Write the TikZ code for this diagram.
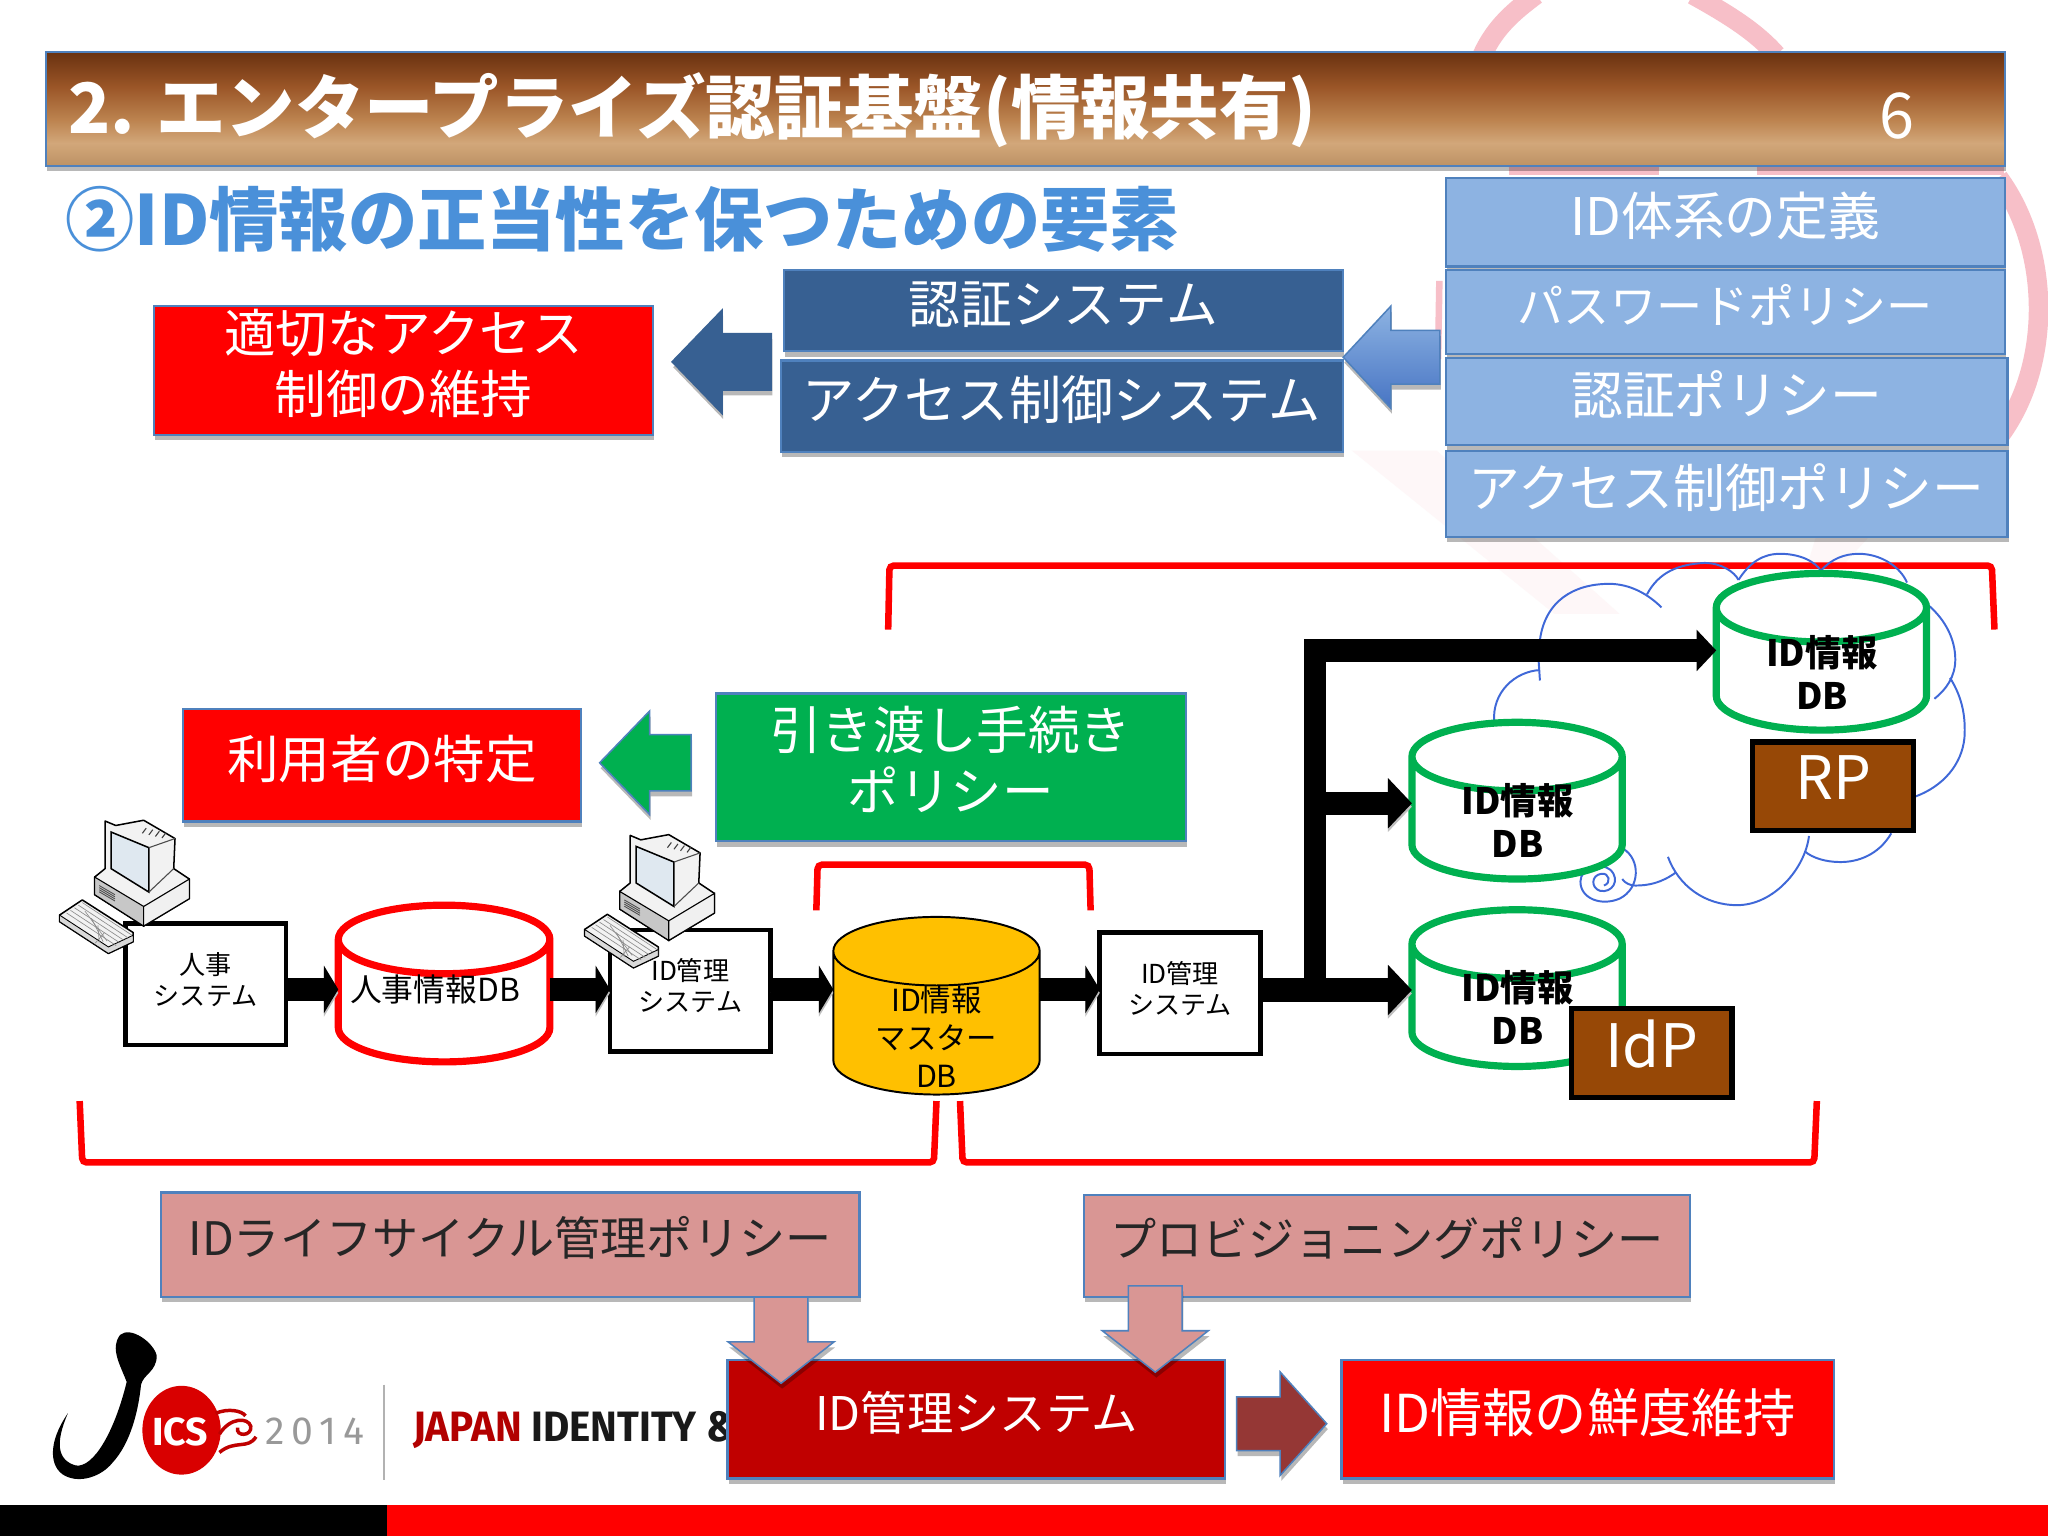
\documentclass[tikz,border=0pt]{standalone}
\usepackage{fontspec}
\setmainfont{Noto Sans CJK JP}
\newfontfamily\logofont{Fira Sans}
\usepackage{tikz}
\usetikzlibrary{arrows.meta,positioning,shapes.geometric,shapes.arrows,shadows}
\newcommand{\fs}[1]{\fontsize{#1}{1.18\dimexpr #1pt\relax}\selectfont}
\newcommand{\dbspace}{\phantom{\rule{63pt}{15pt}}}
\def\pu{0.6pt}
\definecolor{edgeblue}{HTML}{4F81BD}
\definecolor{policyblue}{HTML}{8DB3E2}
\definecolor{sysblue}{HTML}{376092}
\definecolor{headblue}{HTML}{4A90D9}
\definecolor{pinkbox}{HTML}{D99694}
\definecolor{wine}{HTML}{C00000}
\definecolor{arrowwine}{HTML}{953735}
\definecolor{mainred}{HTML}{FF0000}
\definecolor{greenbox}{HTML}{00B050}
\definecolor{brownbox}{HTML}{974806}
\definecolor{amber}{HTML}{FFC000}
\definecolor{cloudblue}{HTML}{3F68D8}
\definecolor{ringpink}{HTML}{F7BFC8}
\definecolor{screenblue}{HTML}{DFE8F0}
\definecolor{tl0}{HTML}{6A3210}
\definecolor{tl1}{HTML}{9A5527}
\definecolor{tl2}{HTML}{BD8450}
\definecolor{tl3}{HTML}{D2A77A}
\definecolor{tl4}{HTML}{BD9264}
\pgfdeclareverticalshading{titlegrad}{100bp}{color(0bp)=(tl4); color(25bp)=(tl4); color(35bp)=(tl3); color(45bp)=(tl2); color(60bp)=(tl1); color(75bp)=(tl0); color(100bp)=(tl0)}
\tikzset{
  softshadow/.style={drop shadow={shadow xshift=0.5pt,shadow yshift=-2.5pt,opacity=.28,fill=black}},
  box/.style 2 args={rectangle,inner sep=0pt,outer sep=0pt,align=center,text depth=8pt,minimum width=#1*\pu,minimum height=#2*\pu,draw=edgeblue,line width=1pt,softshadow},
  policy/.style 2 args={box={#1}{#2},fill=policyblue,text=white,font=\fs{23.8}},
  sysbox/.style 2 args={box={#1}{#2},fill=sysblue,text=white,font=\fs{23.8}},
  redbox/.style 2 args={box={#1}{#2},fill=mainred,text=white,font=\fs{23.7}},
  rule/.style 2 args={box={#1}{#2},fill=pinkbox,text=black!85,font=\fs{21.2}},
  int/.style 2 args={rectangle,draw=black,fill=white,line width=2.2pt,inner sep=0pt,outer sep=0pt,align=center,text depth=5pt,minimum width=#1*\pu,minimum height=#2*\pu,font=\fs{12}},
  tag/.style 2 args={rectangle,draw=black,fill=brownbox,line width=2.4pt,inner sep=0pt,outer sep=0pt,text depth=8pt,minimum width=#1*\pu,minimum height=#2*\pu,text=white,font=\fs{27.5}},
  db/.style 2 args={cylinder,shape border rotate=90,aspect=.5,anchor=shape center,inner sep=0pt,outer sep=0pt,minimum width=#1*\pu,minimum height=#2*\pu},
  greendb/.style={db={161}{120},draw=greenbox,fill=white,line width=3.3pt},
  dblabel/.style={inner sep=0pt,align=center},
  greenlabel/.style={dblabel,font=\fs{16.7}\bfseries},
  block/.style={single arrow,inner xsep=0pt,outer sep=0pt,draw=edgeblue,line width=.7pt,softshadow},
  bracket/.style={draw=mainred,line width=3pt,rounded corners=2pt},
  flow/.style={draw=black,line width=10.8pt,preaction={draw=black!25,transform canvas={yshift=-1.6pt}},-{Triangle[length=6.6pt,width=21.6pt]}},
  bigflow/.style={draw=black,line width=10.8pt,preaction={draw=black!25,transform canvas={yshift=-1.6pt}},-{Triangle[length=11pt,width=22.5pt]}},
  cloudline/.style={draw=cloudblue,line width=.9pt},
  pc/.pic={
    \draw[black,line width=.7pt,fill=black!5,line join=round] (80.5,628.6) -- (88.6,632) -- (110,628) -- (134,642) -- (133,665) -- (145,673) -- (145,688) -- (110,709) -- (72.5,685) -- (72.5,671.5) -- (80.5,665) -- cycle;
    \draw[black,line width=.7pt,fill=screenblue] (85,637) -- (114,649) -- (114,683) -- (85,665) -- cycle;
    \draw[black,line width=.5pt,fill=black!22] (72.5,671.5) -- (110,694) -- (110,709) -- (72.5,685) -- cycle;
    \draw[black,line width=.5pt,fill=black!6] (110,694) -- (145,673) -- (145,688) -- (110,709) -- cycle;
    \draw[black!70,line width=.5pt] (114,649) -- (134,642) (114,683) -- (133,665);
    \foreach \k in {0,2,4,6}{\draw[black!75,line width=.5pt] (112+\k*2.5,634+\k*.6) -- (109+\k*2.5,638+\k*.6);}
    \foreach \k in {0,2,4,6}{\draw[black!70,line width=.4pt] (76,678+\k*.8) -- (88,685+\k*.8);}
    \draw[black,line width=.7pt,fill=black!5,line join=round] (63,689) -- (102,714) -- (102,721) -- (83,730) -- (45.6,705.6) -- (45.6,700.6) -- cycle;
    \draw[black,line width=.4pt,fill=black!15] (45.6,705.6) -- (83,730) -- (102,721) -- (102,716) -- (83,725) -- (45.6,700.6) -- cycle;
    \foreach \k in {1,...,4}{\draw[black!45,line width=.3pt] (60-\k*3+\k*8,692+\k*.5+\k*5) -- (97-\k*3-12,716+\k*.5+4);}
    \foreach \k in {1,...,5}{\draw[black!45,line width=.3pt] (48+\k*3,701-\k*2) -- (86+\k*3,726-\k*2);}
  }
}
\begin{document}
\begin{tikzpicture}[x=0.6pt,y=-0.6pt,>=latex]
  \useasboundingbox (0,0) rectangle (1568,1176);
  \fill[white] (0,0) rectangle (1568,1176);

  % watermark
  \begin{scope}[ringpink,line width=9pt]
    \draw (1135,42) .. controls (1145,20) and (1160,8) .. (1176,-4);
    \draw (1296,-4) .. controls (1325,12) and (1345,25) .. (1360,42);
    \draw[line width=4pt] (1155,131) -- (1270,131) (1345,131) -- (1534,131);
    \draw (1530,136) .. controls (1570,190) and (1572,280) .. (1530,335);
    \draw[line width=3pt] (1102,215) -- (1101,275);
  \end{scope}
  \fill[ringpink!12] (1035,345) -- (1100,345) -- (1240,470) -- (1190,470) -- cycle;
  \fill[ringpink!12] (1390,412) -- (1430,412) -- (1400,445) -- (1380,445) -- cycle;

  % header
  \node[box={1500}{87},shading=titlegrad] (titlebar) at (785,83.5) {};
  \node[anchor=west,inner sep=0pt,text=white,font=\fs{31.9}\bfseries] (titletext) at (52,84) {2. エンタープライズ認証基盤(情報共有)};
  \node[text=white,inner sep=0pt,font=\fs{29}] (pageno) at (1452,89) {6};
  \node[anchor=west,inner sep=0pt,text=headblue,font=\fs{31.8}\bfseries] (subhead) at (50,168) {②ID情報の正当性を保つための要素};

  % top group
  \node[policy={428}{68}] (p1) at (1321,170) {ID体系の定義};
  \node[policy={428}{64},font=\fs{21.2}] (p2) at (1321,239) {パスワードポリシー};
  \node[policy={430}{67}] (p3) at (1322,307.5) {認証ポリシー};
  \node[policy={430}{66}] (p4) at (1322,378) {アクセス制御ポリシー};
  \node[sysbox={428}{62}] (authsys) at (814,238) {認証システム};
  \node[sysbox={430}{70},font=\fs{24}] (aclsys) at (813,311) {アクセス制御システム};
  \node[redbox={382}{99}] (goal1) at (309,283.5) {適切なアクセス\\制御の維持};
  \node[block,shape border rotate=180,fill=sysblue,draw=sysblue,inner ysep=21*\pu,minimum height=76*\pu,single arrow head extend=18*\pu,single arrow tip angle=92] (arr1) at (563,277) {};
  \node[block,shape border rotate=180,top color=policyblue,bottom color=edgeblue!90!blue,inner ysep=20*\pu,minimum height=74*\pu,single arrow head extend=18.5*\pu,single arrow tip angle=94] (arr2) at (1075,273.5) {};

  % policy group
  \draw[bracket] (680,482) -- (681,433) -- (1525,433) -- (1527,482);
  \node[redbox={305}{86}] (goal2) at (292.5,586) {利用者の特定};
  \node[box={360}{113},fill=greenbox,text=white,font=\fs{23.7}] (handover) at (728,587.5) {引き渡し手続き\\ポリシー};
  \node[block,shape border rotate=180,fill=greenbox,inner ysep=21*\pu,minimum height=70*\pu,single arrow head extend=18*\pu,single arrow tip angle=92] (arr3) at (504.5,584) {};
  \draw[bracket] (625,697) -- (626,662) -- (834,662) -- (835,697);

  % cloud
  \begin{scope}[cloudline]
    \draw (1179,490) .. controls (1183,460) and (1205,447) .. (1232,447) .. controls (1248,447) and (1262,455) .. (1272,465);
    \draw (1261,455) .. controls (1270,438) and (1285,432) .. (1305,431) .. controls (1318,431) and (1328,438) .. (1331,444);
    \draw (1331,444) .. controls (1340,430) and (1350,424) .. (1363,424) .. controls (1378,424) and (1390,430) .. (1394,437);
    \draw (1394,437) .. controls (1402,428) and (1412,424) .. (1423,424) .. controls (1440,424) and (1455,434) .. (1460,446);
    \draw (1476,463) .. controls (1490,475) and (1497,490) .. (1497,505) .. controls (1497,518) and (1490,528) .. (1481,535);
    \draw (1493,519) .. controls (1503,535) and (1505,550) .. (1504,565) .. controls (1502,585) and (1488,602) .. (1466,610);
    \draw (1448,638) .. controls (1438,655) and (1422,660) .. (1409,660) .. controls (1398,660) and (1388,657) .. (1382,652);
    \draw (1385,640) .. controls (1382,665) and (1358,693) .. (1330,693) .. controls (1305,693) and (1285,678) .. (1277,656);
    \draw (1283,668) .. controls (1272,676) and (1262,678) .. (1252,678) .. controls (1248,678) and (1244,676) .. (1242,673);
    \draw (1243,650) .. controls (1256,658) and (1256,680) .. (1240,688) .. controls (1226,694) and (1210,688) .. (1210,675) .. controls (1210,664) and (1226,660) .. (1233,666) .. controls (1241,674) and (1234,684) .. (1225,682) .. controls (1218,680) and (1218,670) .. (1226,669) .. controls (1232,668) and (1234,676) .. (1228,678);
    \draw (1144,553) .. controls (1142,530) and (1160,514) .. (1179,513);
    \draw (1178,506) -- (1179,521);
  \end{scope}

  % flow row
  \node[int={123}{93}] (hrsys) at (157.5,753.5) {人事\\システム};
  \node[db={162}{120},draw=mainred,fill=white,line width=3.3pt] (hrdb) at (340,753) {\dbspace};
  \node[dblabel,font=\fs{14.6}] (hrlabel) at (333,757.5) {人事情報DB};
  \node[int={123}{93}] (idsys1) at (528.5,758.5) {ID管理\\システム};
  \node[db={158}{136},draw=black,fill=amber,line width=.9pt] (masterdb) at (717,770) {\dbspace};
  \node[dblabel,font=\fs{14}] (masterlabel) at (717,793.5) {ID情報\\[.9pt]マスター\\[.9pt]DB};
  \node[int={123}{93}] (idsys2) at (903.5,760.5) {ID管理\\システム};
  \node[greendb] (rpdb) at (1394.5,499) {\dbspace};
  \node[greenlabel] (rplabel) at (1395,514.5) {ID情報\\DB};
  \node[greendb] (infodb) at (1161.5,613) {\dbspace};
  \node[greenlabel] (infolabel) at (1162,628) {ID情報\\DB};
  \node[greendb] (idpdb) at (1161.5,756.5) {\dbspace};
  \node[greenlabel] (idplabel) at (1162,771.5) {ID情報\\DB};
  \coordinate (row) at (0,757.5);
  \coordinate (split) at (1007,758);
  \coordinate (midrow) at (0,615);
  \coordinate (toprow) at (0,498);
  \draw[flow] (hrsys.east |- row) -- (hrdb.west |- row);
  \draw[flow] (hrdb.east |- row) -- (idsys1.west |- row);
  \draw[flow] (idsys1.east |- row) -- (masterdb.west |- row);
  \draw[flow] (masterdb.east |- row) -- (idsys2.west |- row);
  \draw[bigflow] (idsys2.east |- split) -- (idpdb.west |- split);
  \draw[bigflow] (split |- midrow) -- (infodb.west |- midrow);
  \draw[draw=black,line width=10.2pt,-{Triangle[length=9pt,width=18.5pt]}] (split) |- (rpdb.west |- toprow);
  \node[tag={123}{68}] (rp) at (1403.5,602) {RP};
  \node[tag={123}{68}] (idp) at (1264.5,806) {IdP};
  \pic (pc1) at (0,0) {pc};
  \pic (pc2) at (402,11) {pc};
  \draw[bracket] (61,843) -- (63,890) -- (715,890) -- (717,843);
  \draw[bracket] (735,843) -- (737,890) -- (1389,890) -- (1391,843);

  % logo
  \fill[black] (92,1022) .. controls (100,1015) and (118,1028) .. (120,1038) .. controls (120,1050) and (110,1052) .. (108,1060) .. controls (106,1080) and (100,1105) .. (86,1120) .. controls (78,1130) and (62,1136) .. (50,1130) .. controls (38,1124) and (36,1105) .. (52,1082) .. controls (42,1105) and (44,1118) .. (58,1122) .. controls (72,1124) and (88,1095) .. (97,1058) .. controls (92,1045) and (84,1032) .. (92,1022) -- cycle;
  \fill[red!85!black] (139,1095) circle[x radius=30,y radius=34];
  \draw[red!75!black,line width=1.6pt] (168,1098) .. controls (176,1085) and (190,1085) .. (192,1092) .. controls (193,1100) and (180,1100) .. (182,1093) (168,1112) .. controls (180,1102) and (190,1110) .. (196,1100) (165,1082) .. controls (175,1078) and (185,1080) .. (188,1084);
  \node[text=white,inner sep=0pt,font=\logofont\fs{18}\bfseries] (logoics) at (138,1096) {ICS};
  \node[text=black!40,inner sep=0pt,font=\logofont\fs{18}] (logoyear) at (241,1096) {2\,0\,1\,4};
  \draw[black!30,line width=.6pt] (294,1060) -- (294,1133);
  \node[anchor=west,inner sep=0pt,xscale=.95,font=\logofont\fs{19.5}\bfseries] (logoname) at (316,1095) {\textcolor{red!70!black}{JAPAN} \textcolor{black!90}{IDENTITY \&}};

  % bottom group
  \fill[black] (0,1152) rectangle (296,1176);
  \fill[mainred] (296,1152) rectangle (1568,1176);
  \node[box={381}{91},fill=wine,text=white,font=\fs{21.3}] (idsys3) at (747.5,1086.5) {ID管理システム};
  \node[redbox={377}{91},font=\fs{24}] (goal3) at (1215.5,1086.5) {ID情報の鮮度維持};
  \node[rule={535}{80}] (lifecycle) at (390.5,953) {IDライフサイクル管理ポリシー};
  \node[rule={464}{78}] (provision) at (1062,954) {プロビジョニングポリシー};
  \node[block,shape border rotate=270,fill=pinkbox,inner xsep=20*\pu,inner ysep=0pt,minimum height=66*\pu,single arrow head extend=20*\pu,single arrow tip angle=104] (arr4) at (598,1018) {};
  \node[block,shape border rotate=270,fill=pinkbox,inner xsep=20*\pu,inner ysep=0pt,minimum height=66*\pu,single arrow head extend=20*\pu,single arrow tip angle=104] (arr5) at (884.5,1009.5) {};
  \node[block,fill=arrowwine,inner ysep=20*\pu,minimum height=69*\pu,single arrow head extend=19*\pu,single arrow tip angle=96] (arr6) at (972,1090) {};
\end{tikzpicture}
\end{document}
